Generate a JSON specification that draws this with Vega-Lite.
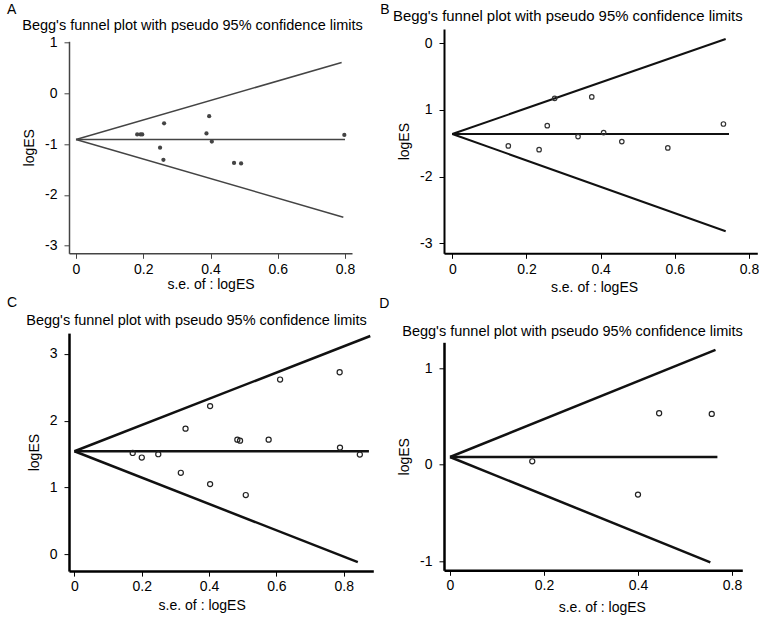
{
  "$schema": "https://vega.github.io/schema/vega-lite/v6.json",
  "padding": {"left": 7, "top": 2, "right": 0, "bottom": 0},
  "columns": 2,
  "align": "none",
  "spacing": 3,
  "datasets": {
    "ptsA": [
      {"se": 0.182, "logES": -0.81}, {"se": 0.192, "logES": -0.81}, {"se": 0.197, "logES": -0.81},
      {"se": 0.262, "logES": -0.59}, {"se": 0.250, "logES": -1.07}, {"se": 0.260, "logES": -1.31},
      {"se": 0.396, "logES": -0.45}, {"se": 0.388, "logES": -0.79}, {"se": 0.404, "logES": -0.95},
      {"se": 0.470, "logES": -1.37}, {"se": 0.491, "logES": -1.38}, {"se": 0.798, "logES": -0.82}
    ],
    "lineA": [
      {"line": "upper", "se": 0, "logES": -0.91}, {"line": "upper", "se": 0.79, "logES": 0.61},
      {"line": "lower", "se": 0, "logES": -0.91}, {"line": "lower", "se": 0.795, "logES": -2.44},
      {"line": "center", "se": 0, "logES": -0.91}, {"line": "center", "se": 0.80, "logES": -0.91}
    ],
    "ptsB": [
      {"se": 0.151, "logES": -1.542}, {"se": 0.234, "logES": -1.597}, {"se": 0.256, "logES": -1.238},
      {"se": 0.276, "logES": -0.828}, {"se": 0.376, "logES": -0.808}, {"se": 0.339, "logES": -1.402},
      {"se": 0.408, "logES": -1.342}, {"se": 0.457, "logES": -1.477}, {"se": 0.581, "logES": -1.572},
      {"se": 0.731, "logES": -1.213}
    ],
    "lineB": [
      {"line": "upper", "se": 0, "logES": -1.363}, {"line": "upper", "se": 0.737, "logES": 0.06},
      {"line": "lower", "se": 0, "logES": -1.363}, {"line": "lower", "se": 0.737, "logES": -2.82},
      {"line": "center", "se": 0, "logES": -1.363}, {"line": "center", "se": 0.746, "logES": -1.363}
    ],
    "ptsC": [
      {"se": 0.173, "logES": 1.517}, {"se": 0.200, "logES": 1.448}, {"se": 0.249, "logES": 1.498},
      {"se": 0.330, "logES": 1.881}, {"se": 0.316, "logES": 1.219}, {"se": 0.403, "logES": 2.219},
      {"se": 0.403, "logES": 1.050}, {"se": 0.484, "logES": 1.716}, {"se": 0.492, "logES": 1.701},
      {"se": 0.509, "logES": 0.886}, {"se": 0.577, "logES": 1.716}, {"se": 0.611, "logES": 2.617},
      {"se": 0.788, "logES": 2.726}, {"se": 0.789, "logES": 1.597}, {"se": 0.848, "logES": 1.493}
    ],
    "lineC": [
      {"line": "upper", "se": 0, "logES": 1.542}, {"line": "upper", "se": 0.879, "logES": 3.27},
      {"line": "lower", "se": 0, "logES": 1.542}, {"line": "lower", "se": 0.842, "logES": -0.12},
      {"line": "center", "se": 0, "logES": 1.542}, {"line": "center", "se": 0.875, "logES": 1.542}
    ],
    "ptsD": [
      {"se": 0.175, "logES": 0.036}, {"se": 0.400, "logES": -0.309},
      {"se": 0.445, "logES": 0.534}, {"se": 0.557, "logES": 0.527}
    ],
    "lineD": [
      {"line": "upper", "se": 0, "logES": 0.081}, {"line": "upper", "se": 0.565, "logES": 1.19},
      {"line": "lower", "se": 0, "logES": 0.081}, {"line": "lower", "se": 0.554, "logES": -1.01},
      {"line": "center", "se": 0, "logES": 0.081}, {"line": "center", "se": 0.569, "logES": 0.081}
    ]
  },
  "concat": [
    {
      "spacing": 4.1,
      "vconcat": [
        {
          "spacing": 2.3,
          "vconcat": [
            {
              "width": 283,
              "height": 1,
              "title": {"text": "A", "anchor": "start", "frame": "group", "dx": -62, "offset": 0.2},
              "data": {"values": []},
              "mark": {"type": "point", "opacity": 0},
              "encoding": {
                "x": {"field": "se", "type": "quantitative", "scale": {"domain": [-0.0208, 0.8208], "nice": false, "zero": false},
                  "axis": {"orient": "top", "title": "Begg's funnel plot with pseudo 95%  confidence limits", "titleFontSize": 14.5, "labels": false, "ticks": false, "domain": false, "titlePadding": -3.6, "titleX": 123}}
              }
            },
            {
              "width": 283,
              "height": 212,
              "layer": [
                {
                  "data": {"name": "lineA"},
                  "mark": {"type": "line", "color": "#444", "strokeWidth": 1.5},
                  "encoding": {
                    "x": {"field": "se", "type": "quantitative", "scale": {"domain": [-0.0208, 0.8208], "nice": false, "zero": false},
                      "axis": {"title": "s.e. of : logES", "values": [0, 0.2, 0.4, 0.6, 0.8], "format": ".1~f", "domainColor": "#444", "domainWidth": 1.5, "tickColor": "#444", "labelPadding": 4, "titlePadding": 1}},
                    "y": {"field": "logES", "type": "quantitative", "scale": {"domain": [-3.152, 1.026], "nice": false, "zero": false},
                      "axis": {"title": "logES", "values": [1, 0, -1, -2, -3], "labelExpr": "datum.value < 0 ? '-' + format(-datum.value, '~g') : format(datum.value, '~g')", "domainColor": "#444", "domainWidth": 1.5, "tickColor": "#444"}},
                    "detail": {"field": "line"}
                  }
                },
                {
                  "data": {"name": "ptsA"},
                  "mark": {"type": "point", "shape": "circle", "filled": true, "color": "#444", "size": 18, "opacity": 1},
                  "encoding": {
                    "x": {"field": "se", "type": "quantitative"},
                    "y": {"field": "logES", "type": "quantitative"}
                  }
                }
              ]
            }
          ]
        },
        {
          "width": 304.3,
          "height": 238,
          "title": {"text": "C", "anchor": "start", "frame": "group", "dx": -62, "offset": 2},
          "resolve": {"axis": {"x": "independent"}},
          "layer": [
            {
              "data": {"name": "lineC"},
              "mark": {"type": "line", "color": "#111", "strokeWidth": 2.5},
              "encoding": {
                "x": {"field": "se", "type": "quantitative", "scale": {"domain": [-0.0163, 0.888], "nice": false, "zero": false},
                  "axis": {"title": "s.e. of : logES", "values": [0, 0.2, 0.4, 0.6, 0.8], "format": ".1~f", "domainWidth": 2.5, "labelPadding": 3.3, "titlePadding": 5.2, "titleX": 132.7}},
                "y": {"field": "logES", "type": "quantitative", "scale": {"domain": [-0.254, 3.313], "nice": false, "zero": false},
                  "axis": {"title": "logES", "values": [3, 2, 1, 0], "labelExpr": "datum.value < 0 ? '-' + format(-datum.value, '~g') : format(datum.value, '~g')", "domainWidth": 2.5}},
                "detail": {"field": "line"}
              }
            },
            {
              "data": {"name": "ptsC"},
              "mark": {"type": "point", "shape": "circle", "filled": false, "color": "#222", "strokeWidth": 1.2, "size": 26, "opacity": 1},
              "encoding": {
                "x": {"field": "se", "type": "quantitative",
                  "axis": {"orient": "top", "title": "Begg's funnel plot with pseudo 95%  confidence limits", "titleFontSize": 14.5, "labels": false, "ticks": false, "domain": false, "titlePadding": 6, "titleX": 127}},
                "y": {"field": "logES", "type": "quantitative"}
              }
            }
          ]
        }
      ]
    },
    {
      "spacing": 2.3,
      "vconcat": [
        {
          "width": 313.3,
          "height": 224.3,
          "title": {"text": "B", "anchor": "start", "frame": "group", "dx": -63.7, "offset": -8.5},
          "resolve": {"axis": {"x": "independent"}},
          "layer": [
            {
              "data": {"name": "lineB"},
              "mark": {"type": "line", "color": "#111", "strokeWidth": 2},
              "encoding": {
                "x": {"field": "se", "type": "quantitative", "scale": {"domain": [-0.0224, 0.8223], "nice": false, "zero": false},
                  "axis": {"title": "s.e. of : logES", "values": [0, 0.2, 0.4, 0.6, 0.8], "format": ".1~f", "domainWidth": 2, "labelPadding": 4, "titlePadding": 4, "titleX": 150}},
                "y": {"field": "logES", "type": "quantitative", "scale": {"domain": [-3.15, 0.21], "nice": false, "zero": false},
                  "axis": {"title": "logES", "values": [0, -1, -2, -3], "labelExpr": "datum.value == -1 ? '1' : (datum.value < 0 ? '-' + format(-datum.value, '~g') : format(datum.value, '~g'))", "domainWidth": 2}},
                "detail": {"field": "line"}
              }
            },
            {
              "data": {"name": "ptsB"},
              "mark": {"type": "point", "shape": "circle", "filled": false, "color": "#333", "strokeWidth": 1.2, "size": 20, "opacity": 1},
              "encoding": {
                "x": {"field": "se", "type": "quantitative",
                  "axis": {"orient": "top", "title": "Begg's funnel plot with pseudo 95%  confidence limits", "titleFontSize": 14.9, "labels": false, "ticks": false, "domain": false, "titlePadding": 6, "titleX": 123.3}},
                "y": {"field": "logES", "type": "quantitative"}
              }
            }
          ]
        },
        {
          "width": 298.3,
          "height": 228,
          "title": {"text": "D", "anchor": "start", "frame": "group", "dx": -64.7, "offset": 12},
          "resolve": {"axis": {"x": "independent"}},
          "layer": [
            {
              "data": {"name": "lineD"},
              "mark": {"type": "line", "color": "#111", "strokeWidth": 2.5},
              "encoding": {
                "x": {"field": "se", "type": "quantitative", "scale": {"domain": [-0.0128, 0.622], "nice": false, "zero": false},
                  "axis": {"title": "s.e. of : logES", "values": [0, 0.2, 0.4, 0.6], "labelExpr": "datum.value > 0.5 ? '0.8' : format(datum.value, '.1~f')", "domainWidth": 2.5, "labelPadding": 3.3, "titlePadding": 8.3, "titleX": 157.8}},
                "y": {"field": "logES", "type": "quantitative", "scale": {"domain": [-1.093, 1.269], "nice": false, "zero": false},
                  "axis": {"title": "logES", "values": [1, 0, -1], "labelExpr": "datum.value < 0 ? '-' + format(-datum.value, '~g') : format(datum.value, '~g')", "domainWidth": 2.5}},
                "detail": {"field": "line"}
              }
            },
            {
              "data": {"name": "ptsD"},
              "mark": {"type": "point", "shape": "circle", "filled": false, "color": "#222", "strokeWidth": 1.2, "size": 26, "opacity": 1},
              "encoding": {
                "x": {"field": "se", "type": "quantitative",
                  "axis": {"orient": "top", "title": "Begg's funnel plot with pseudo 95%  confidence limits", "titleFontSize": 14.5, "labels": false, "ticks": false, "domain": false, "titlePadding": 4, "titleX": 128}},
                "y": {"field": "logES", "type": "quantitative"}
              }
            }
          ]
        }
      ]
    }
  ],
  "config": {
    "view": {"stroke": null},
    "font": "Liberation Sans",
    "title": {"fontSize": 14, "fontWeight": "normal", "color": "#000", "font": "Liberation Sans"},
    "axis": {
      "grid": false,
      "labelFontSize": 14,
      "titleFontSize": 14,
      "titleFontWeight": "normal",
      "labelColor": "#000",
      "titleColor": "#000",
      "domainColor": "#000",
      "tickColor": "#000",
      "tickSize": 5,
      "tickWidth": 1,
      "labelPadding": 4,
      "labelFlush": false,
      "labelOverlap": false,
      "labelFont": "Liberation Sans",
      "titleFont": "Liberation Sans"
    },
    "axisY": {"labelPadding": 7, "titlePadding": 8}
  }
}
